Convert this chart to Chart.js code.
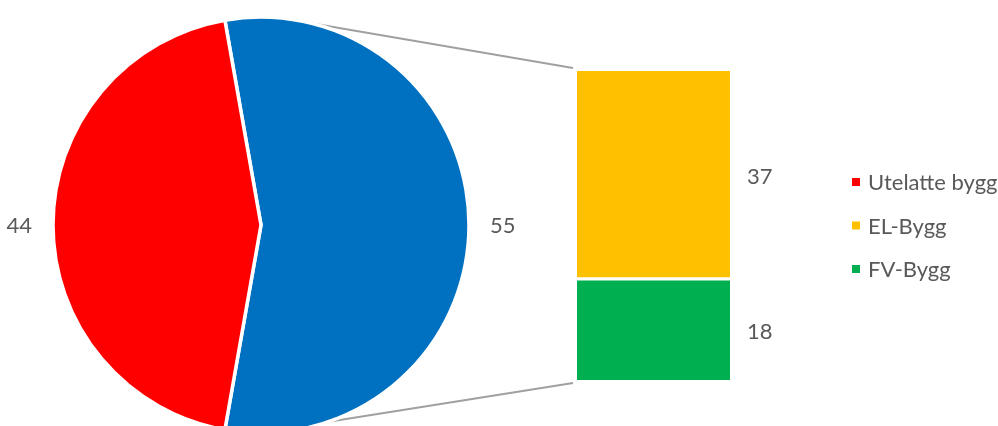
<!DOCTYPE html>
<html>
<head>
<meta charset="utf-8">
<script src="https://cdn.jsdelivr.net/npm/chart.js@4.4.1/dist/chart.umd.min.js"></script>
<style>
    html, body { margin: 0; padding: 0; background: #fff; overflow: hidden; }
    .wrap { position: absolute; left: 0; top: 0; width: 998px; height: 426px; }
</style>
</head>
<body onload="onInit()">
<div class="wrap"><canvas id="barChart"></canvas></div>
<div class="wrap"><canvas id="pieChart"></canvas></div>
<script>
'use strict'

// the big slice is split into the stacked bar on the right
const gOtherLabel = 'Annet'
const gMainLabel = 'Utelatte bygg'
const gMainValue = 44
const gBarLabels = ['EL-Bygg', 'FV-Bygg']
const gBarValues = [37, 18]

const gMainColor = '#ff0000'
const gOtherColor = '#0070c0'
const gBarColors = ['#ffc000', '#00b050']

const TEXT_COLOR = '#595959'
const FONT = '22px Lato, "DejaVu Sans", sans-serif'
const LINK_ANGLES = [14, 161] // where the connector lines leave the pie, deg clockwise from top

var gPieChart
var gBarChart

function onInit() {
    renderPie()
    renderBar()
}

function sumValues(values) {
    return values.reduce((acc, val) => acc + val, 0)
}

const pieLabelsPlugin = {
    id: 'pieLabels',
    afterDatasetsDraw(chart) {
        const ctx = chart.ctx
        const values = chart.data.datasets[0].data
        ctx.save()
        ctx.font = FONT
        ctx.fillStyle = TEXT_COLOR
        ctx.textBaseline = 'middle'
        chart.getDatasetMeta(0).data.forEach((arc, idx) => {
            const mid = (arc.startAngle + arc.endAngle) / 2
            const r = arc.outerRadius + 21
            const cos = Math.cos(mid)
            ctx.textAlign = cos >= 0 ? 'left' : 'right'
            ctx.fillText(values[idx], arc.x + cos * r, arc.y + Math.sin(mid) * r + 1)
        })
        ctx.restore()
    }
}

const barExtrasPlugin = {
    id: 'barExtras',
    beforeDatasetsDraw(chart) {
        // connector lines from the pie to the bar
        const arc = gPieChart.getDatasetMeta(0).data[0]
        const bars = gBarValues.map((val, idx) => chart.getDatasetMeta(idx).data[0])
        const left = bars[0].x - bars[0].width / 2
        const top = Math.min(bars[0].y, bars[0].base)
        const bottom = Math.max(bars[bars.length - 1].y, bars[bars.length - 1].base)
        const ends = [[left - 4, top - 3], [left - 4, bottom + 3]]
        const ctx = chart.ctx
        ctx.save()
        ctx.strokeStyle = '#a0a0a0'
        ctx.lineWidth = 2
        LINK_ANGLES.forEach((deg, idx) => {
            const rad = deg * Math.PI / 180
            ctx.beginPath()
            ctx.moveTo(arc.x + arc.outerRadius * Math.sin(rad), arc.y - arc.outerRadius * Math.cos(rad))
            ctx.lineTo(ends[idx][0], ends[idx][1])
            ctx.stroke()
        })
        ctx.restore()
    },
    afterDatasetsDraw(chart) {
        const ctx = chart.ctx
        ctx.save()
        ctx.font = FONT
        ctx.fillStyle = TEXT_COLOR
        ctx.textBaseline = 'middle'
        ctx.textAlign = 'left'
        gBarValues.forEach((val, idx) => {
            const bar = chart.getDatasetMeta(idx).data[0]
            ctx.fillText(val, bar.x + bar.width / 2 + 17, (bar.y + bar.base) / 2 + 2)
        })

        // legend
        const labels = [gMainLabel, ...gBarLabels]
        const colors = [gMainColor, ...gBarColors]
        labels.forEach((label, idx) => {
            const y = 182 + idx * 43.5
            ctx.fillStyle = colors[idx]
            ctx.fillRect(852, y - 4, 8, 8)
            ctx.fillStyle = TEXT_COLOR
            ctx.fillText(label, 868, y + 1)
        })
        ctx.restore()
    }
}

function renderPie() {
    const ctx = document.getElementById('pieChart')
    gPieChart = new Chart(ctx, {
        type: 'pie',
        data: {
            labels: [gOtherLabel, gMainLabel],
            datasets: [{
                data: [sumValues(gBarValues), gMainValue],
                backgroundColor: [gOtherColor, gMainColor],
                borderColor: '#ffffff',
                borderWidth: 3.5
            }]
        },
        options: {
            responsive: true,
            maintainAspectRatio: false,
            animation: false,
            events: [],
            rotation: -10,
            radius: 208,
            layout: { padding: { left: 0, right: 476, top: 24, bottom: 0 } },
            plugins: {
                legend: { display: false },
                tooltip: { enabled: false }
            }
        },
        plugins: [pieLabelsPlugin]
    })
}

function renderBar() {
    const ctx = document.getElementById('barChart')
    gBarChart = new Chart(ctx, {
        type: 'bar',
        data: {
            labels: [''],
            datasets: gBarLabels.map((label, idx) => ({
                label,
                data: [gBarValues[idx]],
                backgroundColor: gBarColors[idx],
                borderColor: '#ffffff',
                borderWidth: idx === 0 ? { bottom: 2 } : { top: 2 },
                borderSkipped: false,
                barPercentage: 1,
                categoryPercentage: 1
            }))
        },
        options: {
            responsive: true,
            maintainAspectRatio: false,
            animation: false,
            events: [],
            layout: { padding: { left: 577, right: 268, top: 71, bottom: 46 } },
            scales: {
                x: { display: false, stacked: true },
                y: { display: false, stacked: true, reverse: true, min: 0, max: sumValues(gBarValues) }
            },
            plugins: {
                legend: { display: false },
                tooltip: { enabled: false }
            }
        },
        plugins: [barExtrasPlugin]
    })
}
</script>
</body>
</html>
